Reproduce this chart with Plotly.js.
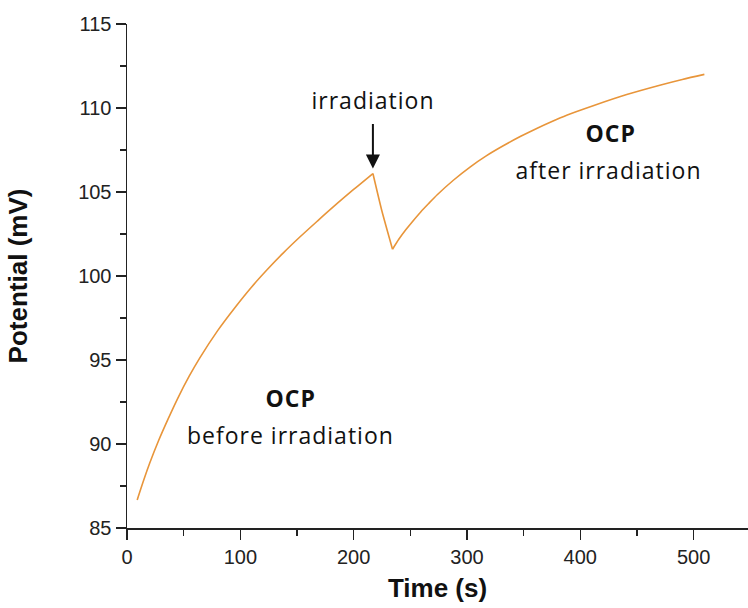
<!DOCTYPE html>
<html>
<head>
<meta charset="utf-8">
<script src="https://cdn.plot.ly/plotly-3.0.1.min.js"></script>
<style>
  html, body { margin: 0; padding: 0; background: #fff; }
  #chart { width: 748px; height: 608px; }
  /* slightly airy lettering for the in-plot notes */
  #chart .annotation-text { letter-spacing: 1px; }
</style>
</head>
<body>
<div id="chart"></div>
<script>
// Open-circuit potential before irradiation (time in s, potential in mV)
const timeBefore = [9, 15, 20, 28, 36, 45, 55, 64, 80, 95, 110, 124, 138, 153, 168, 183, 200, 217];
const potentialBefore = [86.67, 87.9, 88.85, 90.22, 91.45, 92.75, 94.05, 95.1, 96.75, 98.1, 99.35, 100.4, 101.38, 102.35, 103.27, 104.17, 105.15, 106.1];

// Potential drop during irradiation and recovery afterwards
const timeAfter = [225, 234.3, 240, 246, 252, 259, 266, 274, 288, 303, 317, 332, 347, 362, 375, 388, 412, 441, 471, 490, 509.5];
const potentialAfter = [103.85, 101.59, 102.2, 102.75, 103.25, 103.8, 104.3, 104.85, 105.7, 106.5, 107.15, 107.75, 108.3, 108.8, 109.2, 109.57, 110.15, 110.8, 111.37, 111.7, 112.0];

// Moment the light is switched on
const irradiationTime = 217;
const irradiationPotential = 106.4;

const axisFont = { family: 'Liberation Sans, Arial, sans-serif', size: 20, color: '#222' };
const titleFont = { family: 'Liberation Sans, Arial, sans-serif', size: 26, color: '#111', weight: 'bold' };
const noteFont = { family: 'Open Sans, sans-serif', size: 23, color: '#111' };

const lineStyle = { color: '#E8953A', width: 1.6 };

// Rising part before the light, drop + recovery after it (joined at the peak)
const traces = [
  {
    x: timeBefore, y: potentialBefore,
    type: 'scatter', mode: 'lines',
    line: Object.assign({ shape: 'spline', smoothing: 0.8 }, lineStyle),
    hoverinfo: 'skip'
  },
  {
    x: [timeBefore[timeBefore.length - 1], timeAfter[0], timeAfter[1]],
    y: [potentialBefore[potentialBefore.length - 1], potentialAfter[0], potentialAfter[1]],
    type: 'scatter', mode: 'lines',
    line: Object.assign({ shape: 'spline', smoothing: 0.5 }, lineStyle),
    hoverinfo: 'skip'
  },
  {
    x: timeAfter.slice(1), y: potentialAfter.slice(1),
    type: 'scatter', mode: 'lines',
    line: Object.assign({ shape: 'spline', smoothing: 0.8 }, lineStyle),
    hoverinfo: 'skip'
  }
];

const layout = {
  width: 748,
  height: 608,
  margin: { l: 127, r: 0, t: 24, b: 80 },
  paper_bgcolor: '#fff',
  plot_bgcolor: '#fff',
  showlegend: false,
  xaxis: {
    range: [0, 548],
    dtick: 100,
    tick0: 0,
    ticks: 'outside',
    ticklen: 10,
    tickwidth: 1.5,
    tickcolor: '#222',
    minor: { dtick: 50, ticks: 'outside', ticklen: 6, tickwidth: 1.5, tickcolor: '#222' },
    showline: true,
    linecolor: '#222',
    linewidth: 1.5,
    showgrid: false,
    zeroline: false,
    tickfont: axisFont,
    title: { text: 'Time (s)', font: titleFont, standoff: 12 }
  },
  yaxis: {
    range: [85, 115],
    dtick: 5,
    tick0: 85,
    ticks: 'outside',
    ticklen: 10,
    tickwidth: 1.5,
    tickcolor: '#222',
    minor: { dtick: 2.5, ticks: 'outside', ticklen: 6, tickwidth: 1.5, tickcolor: '#222' },
    showline: true,
    linecolor: '#222',
    linewidth: 1.5,
    showgrid: false,
    zeroline: false,
    tickfont: axisFont,
    title: { text: 'Potential (mV)', font: titleFont, standoff: 43 }
  },
  annotations: [
    {
      x: irradiationTime, y: irradiationPotential, xref: 'x', yref: 'y',
      text: '', showarrow: true,
      ax: 0, ay: -46, axref: 'pixel', ayref: 'pixel',
      arrowhead: 2, arrowsize: 1.4, arrowwidth: 2, arrowcolor: '#111', standoff: 0
    },
    { x: 217.3, y: 110.48, xref: 'x', yref: 'y', text: 'irradiation', showarrow: false, font: noteFont },
    { x: 426.5, y: 108.51, xref: 'x', yref: 'y', text: '<b>OCP</b>', showarrow: false, font: noteFont },
    { x: 424.8, y: 106.31, xref: 'x', yref: 'y', text: 'after irradiation', showarrow: false, font: noteFont },
    { x: 144, y: 92.74, xref: 'x', yref: 'y', text: '<b>OCP</b>', showarrow: false, font: noteFont },
    { x: 144, y: 90.54, xref: 'x', yref: 'y', text: 'before irradiation', showarrow: false, font: noteFont }
  ]
};

Plotly.newPlot('chart', traces, layout, { staticPlot: true, displayModeBar: false });
</script>
</body>
</html>
